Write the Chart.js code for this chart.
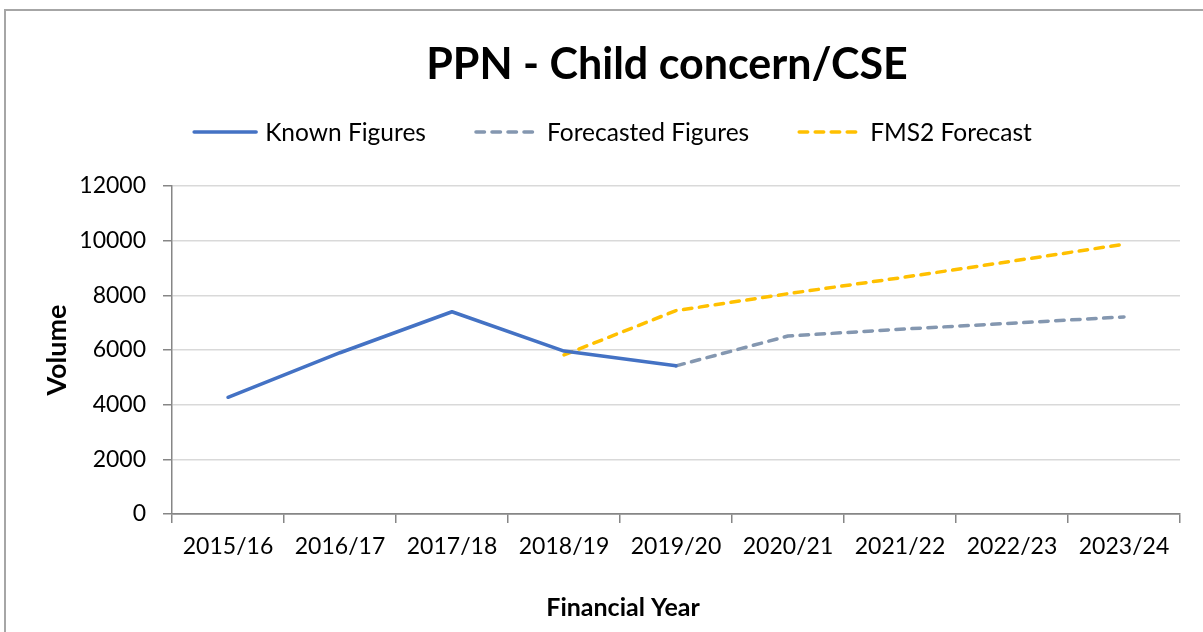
<!DOCTYPE html>
<html>
<head>
<meta charset="utf-8">
<title>PPN - Child concern/CSE</title>
<script src="https://cdn.jsdelivr.net/npm/chart.js@4.4.0/dist/chart.umd.min.js"></script>
<style>
  html, body { margin: 0; padding: 0; background: #fff; overflow: hidden; }
  #frame { position: absolute; left: 4px; top: 9px; width: 1330px; height: 630px; border: 2px solid #a6a6a6; }
  canvas { display: block; }
</style>
</head>
<body>
<div id="frame"><canvas id="ppn-chart"></canvas></div>
<script>
const years = ["2015/16", "2016/17", "2017/18", "2018/19", "2019/20", "2020/21", "2021/22", "2022/23", "2023/24"];
const knownFigures = [4270, 5900, 7400, 5960, 5420, null, null, null, null];
const forecastedFigures = [null, null, null, null, 5420, 6510, 6760, 6980, 7210];
const fms2Forecast = [null, null, null, 5820, 7440, 8060, 8640, 9250, 9870];
const volumeTicks = [0, 2000, 4000, 6000, 8000, 10000, 12000];

const FONT = "Lato, 'Open Sans', sans-serif";
const AXIS = "#868686";
const GRID = "#d9d9d9";

// title, legend and x-axis title are painted by hand so they sit where Excel puts them
const headerText = {
  id: "headerText",
  afterDraw(chart) {
    const ctx = chart.ctx;
    ctx.save();
    ctx.fillStyle = "#000";
    ctx.textBaseline = "middle";
    ctx.textAlign = "center";
    ctx.font = `bold 43px ${FONT}`;
    ctx.fillText("PPN - Child concern/CSE", 661, 54);

    ctx.font = `bold 25px ${FONT}`;
    ctx.fillText("Financial Year", 617, 597);

    ctx.font = `24.5px ${FONT}`;
    const sets = chart.data.datasets;
    const swatch = 66, gap = 7, spacing = 48, y = 121;
    const widths = sets.map((d) => ctx.measureText(d.label).width);
    const total = widths.reduce((a, w) => a + swatch + gap + w, 0) + spacing * (sets.length - 1);
    let x = 606 - total / 2;
    sets.forEach((d, i) => {
      ctx.beginPath();
      ctx.strokeStyle = d.borderColor;
      ctx.lineWidth = d.borderWidth;
      ctx.lineCap = "round";
      ctx.setLineDash(d.borderDash || []);
      ctx.moveTo(x + 2, y);
      ctx.lineTo(x + swatch - 2, y);
      ctx.stroke();
      ctx.setLineDash([]);
      ctx.textAlign = "left";
      ctx.fillText(d.label, x + swatch + gap, y + 1);
      x += swatch + gap + widths[i] + spacing;
    });
    ctx.restore();
  },
};

const lineStyle = (color, dash) => ({
  borderColor: color,
  backgroundColor: color,
  borderWidth: 3.5,
  borderDash: dash,
  borderCapStyle: "round",
  borderJoinStyle: "round",
  pointRadius: 0,
  pointHoverRadius: 0,
  tension: 0,
  spanGaps: false,
});

new Chart(document.getElementById("ppn-chart"), {
  type: "line",
  data: {
    labels: years,
    datasets: [
      { label: "Known Figures", data: knownFigures, ...lineStyle("#4472c4", []) },
      { label: "Forecasted Figures", data: forecastedFigures, ...lineStyle("#8497b0", [8.5, 7.5]) },
      { label: "FMS2 Forecast", data: fms2Forecast, ...lineStyle("#ffc000", [8.5, 7.5]) },
    ],
  },
  options: {
    responsive: true,
    maintainAspectRatio: false,
    animation: false,
    layout: { padding: { top: 175, right: 156, bottom: 0, left: 0 } },
    plugins: {
      legend: { display: false },
      title: { display: false },
      tooltip: { enabled: false },
    },
    scales: {
      x: {
        offset: true,
        grid: { offset: true, drawOnChartArea: false, tickLength: 9, tickColor: AXIS, lineWidth: 1.5 },
        border: { color: AXIS, width: 1.5 },
        ticks: { color: "#000", font: { family: FONT, size: 23 }, padding: 10, maxRotation: 0, autoSkip: false },
        afterFit: (scale) => { scale.height = 127; },
      },
      y: {
        min: 0,
        max: 12000,
        afterBuildTicks: (scale) => { scale.ticks = volumeTicks.map((value) => ({ value })); },
        grid: {
          color: (c) => (c.tick && c.tick.value === 0 ? AXIS : GRID),
          lineWidth: 1.5,
          tickLength: 9,
          tickColor: AXIS,
        },
        border: { color: AXIS, width: 1.5 },
        ticks: { color: "#000", font: { family: FONT, size: 23 }, padding: 17, callback: (v) => String(v) },
        title: { display: true, text: "Volume", color: "#000", font: { family: FONT, size: 27, weight: "bold" }, padding: { top: 35, bottom: 0 } },
        afterFit: (scale) => { scale.width = 166; },
      },
    },
  },
  plugins: [headerText],
});
</script>
</body>
</html>
